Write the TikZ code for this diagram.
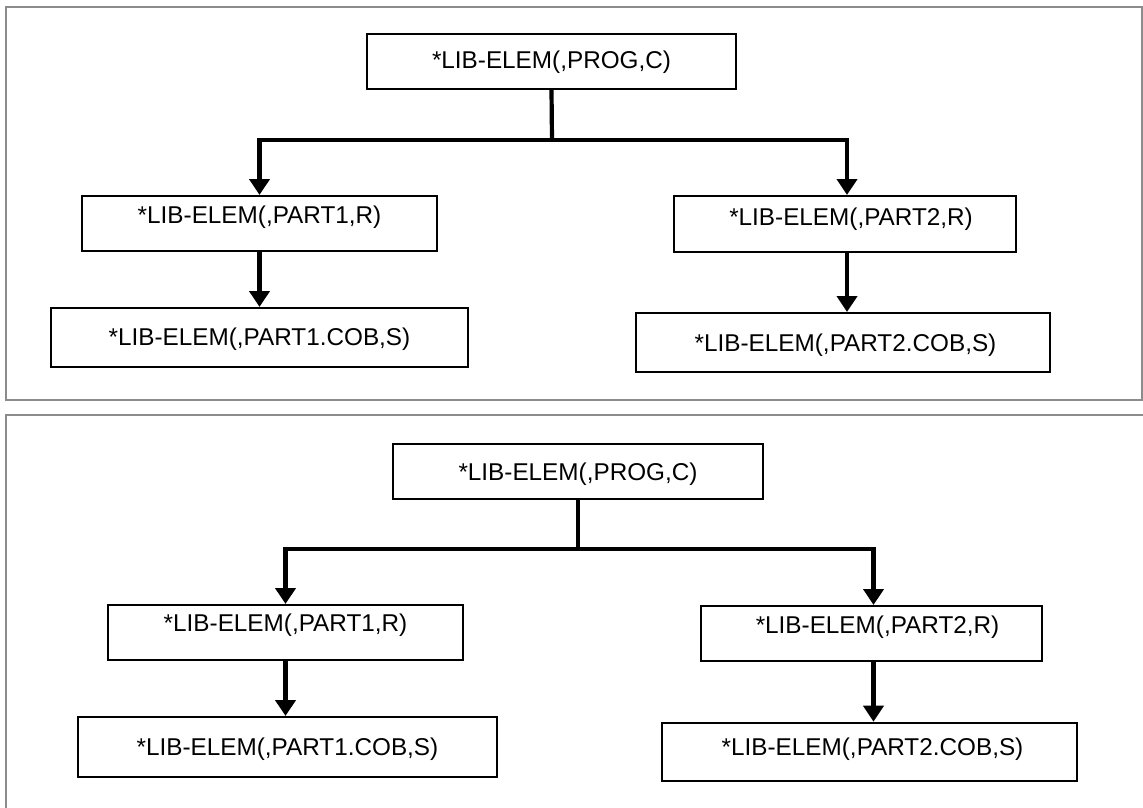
\documentclass[tikz,border=0pt]{standalone}
\usepackage{fontspec}
\setmainfont{Liberation Sans}
\usetikzlibrary{arrows.meta}
\begin{document}
\begin{tikzpicture}[x=1pt,y=-1pt,
  elem/.style={draw=black,line width=2pt,inner sep=0pt,text height=17pt,
    font=\fontsize{24.3pt}{27pt}\selectfont,minimum height=#1},
  elem/.default=55pt,
  up/.style={text depth=#1},
  panel/.style={draw=black!45,line width=2pt},
  conn/.style={line width=4.2pt,line join=miter},
  arr/.style={conn,-{Triangle[width=20pt,length=16pt]}}]
\useasboundingbox (0,0) rectangle (1143,807);
\clip (0,0) rectangle (1143,807);
% panels
\draw[panel] (6,7) rectangle (1142,400);
\draw[panel] (6,415) rectangle (1160,830);
% top panel nodes
\node[elem,up=3pt,minimum width=369pt] (prog1) at (551.5,61.5) {*LIB-ELEM(,PROG,C)};
\node[elem,up=17pt,minimum width=355pt] (a1) at (259.5,223.5) {*LIB-ELEM(,PART1,R)};
\node[elem=59pt,up=1pt,minimum width=417pt] (b1) at (259.5,337.5) {*LIB-ELEM(,PART1.COB,S)};
\node[elem=56pt,up=14pt,minimum width=342pt] (a2) at (845,224) {\hspace{12pt}*LIB-ELEM(,PART2,R)};
\node[elem=59pt,up=0pt,minimum width=414pt] (b2) at (843,342.5) {\hspace{5pt}*LIB-ELEM(,PART2.COB,S)};
\coordinate (j1) at (552,140);
\draw[conn] (prog1.south) -- (j1);
\draw[arr] (j1) -| (a1.north);
\draw[arr] (j1) -| ([xshift=2pt]a2.north);
\draw[arr] (a1.south) -- (b1.north);
\draw[arr] ([xshift=2pt]a2.south) -- ([xshift=2pt]a2.south |- b2.north);
% bottom panel nodes
\node[elem,up=0pt,minimum width=370pt] (prog2) at (578,471.5) {*LIB-ELEM(,PROG,C)};
\node[elem,up=19pt,minimum width=355pt] (c1) at (285.5,632.5) {*LIB-ELEM(,PART1,R)};
\node[elem=60pt,up=0pt,minimum width=419pt] (d1) at (287.5,747) {*LIB-ELEM(,PART1.COB,S)};
\node[elem,up=17pt,minimum width=341pt] (c2) at (871.5,633.5) {\hspace{12pt}*LIB-ELEM(,PART2,R)};
\node[elem=58pt,up=10pt,minimum width=415pt] (d2) at (869.5,751.7) {\hspace{6pt}*LIB-ELEM(,PART2.COB,S)};
\coordinate (j2) at (578,549);
\draw[conn] (prog2.south) -- (j2);
\draw[arr] (j2) -| (c1.north);
\draw[arr] (j2) -| ([xshift=2pt]c2.north);
\draw[arr] (c1.south) -- (c1.south |- d1.north);
\draw[arr] ([xshift=2pt]c2.south) -- ([xshift=2pt]c2.south |- d2.north);
\end{tikzpicture}
\end{document}
